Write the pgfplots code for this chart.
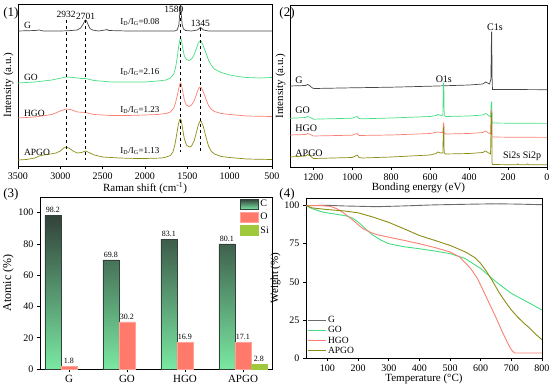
\documentclass[border=0pt]{standalone}
\usepackage{pgfplots}
\pgfplotsset{compat=1.18}
\usepackage{fontspec}
\setmainfont{Liberation Serif}
\definecolor{Gcol}{RGB}{70,70,70}
\definecolor{GOcol}{RGB}{70,222,130}
\definecolor{HGOcol}{RGB}{250,128,114}
\definecolor{APGOcol}{RGB}{140,140,20}
\definecolor{Ctop}{RGB}{50,66,58}
\definecolor{Cbot}{RGB}{122,232,162}
\definecolor{Ocol}{RGB}{255,122,106}
\definecolor{Sicol}{RGB}{160,200,60}
\begin{document}
\begin{tikzpicture}
\useasboundingbox (0pt,0pt) rectangle (550pt,384pt);
\pgfplotsset{
  every axis/.append style={
    scale only axis, anchor=south west,
    /pgf/number format/assume math mode=true,
    /pgf/number format/1000 sep={},
    tick label style={font=\fontsize{10}{11}\selectfont},
    label style={font=\fontsize{11}{12}\selectfont},
    tick align=outside, tick pos=left, major tick length=3pt,
    axis line style={line width=0.6pt},
    every tick/.style={line width=0.6pt, black},
  }
}
% ---------------- Panel 1 : Raman ----------------
\begin{axis}[at={(18pt,218pt)}, width=254pt, height=162pt,
  xmin=500, xmax=3500, x dir=reverse, ymin=0, ymax=162, ytick=\empty,
  xtick={500,1000,...,3500},
  xlabel={Raman shift (cm\textsuperscript{-1})}, ylabel={Intensity (a.u.)},
  xlabel style={yshift=4pt}, ylabel style={yshift=-2pt},
  every axis plot/.append style={line width=0.7pt, no marks}]
\addplot[Gcol] coordinates {(3500,135) (3300,135.5) (3250,136) (3200,135) (3000,135) (2900,135.3) (2800,136) (2760,138) (2730,142) (2710,145.5) (2700,146) (2690,145) (2670,141) (2650,137.5) (2620,136) (2550,135) (2470,136) (2450,136.5) (2430,135.5) (2200,135) (2000,135) (1800,135) (1650,135) (1620,136) (1600,141) (1590,152) (1583,160) (1580,161) (1577,160) (1570,150) (1560,141) (1545,137) (1520,135.5) (1450,135) (1380,136) (1355,138) (1345,138.5) (1335,138) (1310,136) (1250,135) (1000,135) (800,135) (500,135)};
\addplot[GOcol] coordinates {(3500,83) (3300,84) (3100,86) (2932,89) (2850,88.5) (2750,87.5) (2701,87.5) (2600,85.5) (2400,84) (2200,84) (2000,84) (1850,85) (1750,86) (1700,88) (1660,92) (1640,98) (1620,108) (1600,121) (1585,127.5) (1578,128) (1570,126) (1555,118) (1535,110) (1510,106.5) (1480,105.5) (1450,107) (1420,111) (1395,117) (1370,123) (1350,125) (1335,124.5) (1310,120) (1280,113) (1250,106) (1220,101) (1180,97) (1100,93.5) (1000,91) (900,89.5) (800,88.5) (650,88) (500,88.5)};
\addplot[HGOcol] coordinates {(3500,48) (3300,49) (3100,51.5) (3000,55) (2932,57) (2880,56.5) (2800,54) (2701,53.5) (2600,51.5) (2400,50.5) (2200,50.5) (2000,51) (1850,51.5) (1750,52.5) (1700,54) (1660,58) (1640,63) (1620,70) (1600,78) (1585,82.5) (1578,83) (1570,81.5) (1555,75) (1535,66) (1510,61) (1480,59.5) (1450,61) (1420,65) (1395,71) (1370,77) (1350,79) (1335,78.5) (1310,74) (1280,67) (1250,60.5) (1220,57) (1180,54.5) (1100,52.5) (1000,51.5) (800,50) (500,49.5)};
\addplot[APGOcol] coordinates {(3500,6) (3400,6.5) (3300,8) (3250,10) (3200,11) (3150,11.5) (3050,13) (3000,15) (2960,18) (2932,19) (2900,18) (2850,15) (2800,13) (2750,13.5) (2701,15) (2650,13) (2600,11) (2500,9) (2300,8) (2100,7.5) (2000,7.5) (1800,8) (1750,9) (1700,10.5) (1670,14) (1645,22) (1625,32) (1605,42) (1590,46.5) (1580,47) (1570,45) (1555,37) (1535,27) (1510,21) (1480,19) (1450,20) (1420,25) (1395,33) (1370,41) (1350,45) (1335,44.5) (1310,39) (1280,29) (1250,20) (1220,15) (1180,12) (1100,9.5) (1000,8.5) (800,7) (500,6.5)};
\draw[dashed, line width=0.6pt] (axis cs:2932,146) -- (axis cs:2932,6);
\draw[dashed, line width=0.6pt] (axis cs:2701,146) -- (axis cs:2701,6);
\draw[dashed, line width=0.6pt] (axis cs:1580,154) -- (axis cs:1580,14);
\draw[dashed, line width=0.6pt] (axis cs:1345,138) -- (axis cs:1345,14);
\begin{scope}[font=\fontsize{9.5}{10}\selectfont]
\node at (axis cs:2932,152) {2932};
\node at (axis cs:2701,150) {2701};
\node at (axis cs:1660,157) {1580};
\node at (axis cs:1345,143) {1345};
\end{scope}
\begin{scope}[font=\fontsize{9}{10}\selectfont]
\node at (axis cs:2060,144) {I\textsubscript{D}/I\textsubscript{G}=0.08};
\node at (axis cs:2060,94) {I\textsubscript{D}/I\textsubscript{G}=2.16};
\node at (axis cs:2060,56) {I\textsubscript{D}/I\textsubscript{G}=1.23};
\node at (axis cs:2060,15) {I\textsubscript{D}/I\textsubscript{G}=1.13};
\end{scope}
\begin{scope}[font=\fontsize{9.5}{10}\selectfont]
\node[anchor=west] at (axis cs:3470,141) {G};
\node[anchor=west] at (axis cs:3470,89) {GO};
\node[anchor=west] at (axis cs:3470,53) {HGO};
\node[anchor=west] at (axis cs:3470,14) {APGO};
\end{scope}
\end{axis}
% ---------------- Panel 2 : XPS ----------------
\begin{axis}[at={(290pt,217pt)}, width=257pt, height=162pt,
  xmin=0, xmax=1320, x dir=reverse, ymin=0, ymax=162, ytick=\empty,
  xtick={0,200,...,1200},
  xlabel={Bonding energy (eV)}, ylabel={Intensity (a.u.)},
  xlabel style={yshift=4pt}, ylabel style={yshift=-2pt},
  every axis plot/.append style={line width=0.7pt, no marks}]
\addplot[Gcol] coordinates {(1320,81) (1240,81.5) (1230,82.5) (1220,81.5) (1205,79) (1195,78.5) (1000,79.2) (800,79.8) (600,80.8) (400,82) (330,83) (315,85) (305,84) (295,83) (288,88) (285,135) (284,135) (282,90) (280,77.5) (200,77.5) (0,77.3)};
\addplot[GOcol] coordinates {(1320,48.7) (1240,49.5) (1230,50.5) (1215,49.5) (1200,47.8) (1000,48.8) (985,50) (975,50.5) (965,48.5) (950,48.2) (800,49) (600,50.5) (570,51.5) (560,52.5) (545,51.5) (535,52) (532,84) (530,84) (528,52) (520,50.5) (400,51) (330,52) (315,53.5) (300,51.5) (290,50) (286,65) (284,65) (282,46) (280,44) (200,43.8) (0,43.6)};
\addplot[HGOcol] coordinates {(1320,32) (1240,32.5) (1230,33.5) (1215,32.5) (1200,31) (1000,31.8) (985,33) (975,33.5) (965,31.5) (800,32) (600,33.5) (560,35) (545,34.5) (535,34.5) (532,44) (530,44) (528,34) (520,33) (400,33.5) (330,34.5) (315,36) (300,34) (290,33) (286,57) (284,57) (282,31) (280,30) (200,29.8) (0,29.6)};
\addplot[APGOcol] coordinates {(1320,10) (1240,11) (1230,12.5) (1215,11) (1200,8.5) (1000,9.5) (985,11) (975,12) (965,9.5) (950,9) (800,10) (600,12) (570,13.5) (560,15) (545,14) (535,14) (532,40) (530,40) (528,14) (520,13) (400,13.5) (330,14.5) (315,16) (300,14) (290,13) (286,54) (284,54) (282,4) (280,2.5) (200,2.3) (155,2.3) (150,3.2) (145,2.3) (105,2.3) (100,3.2) (95,2.3) (0,2.2)};
\begin{scope}[font=\fontsize{10}{11}\selectfont]
\node[anchor=west] at (axis cs:1310,87) {G};
\node[anchor=west] at (axis cs:1310,57) {GO};
\node[anchor=west] at (axis cs:1310,39) {HGO};
\node[anchor=west] at (axis cs:1310,14) {APGO};
\node at (axis cs:530,88) {O1s};
\node at (axis cs:267,140) {C1s};
\node at (axis cs:128,11) {Si2s Si2p};
\end{scope}
\end{axis}
% ---------------- Panel 3 : bars ----------------
\begin{axis}[at={(40pt,15pt)}, width=232pt, height=172pt,
  ybar=0pt, bar width=16pt,
  xmin=-0.5, xmax=3.5, ymin=0, ymax=110,
  xtick={0,1,2,3}, xticklabels={G,GO,HGO,APGO},
  x tick label style={font=\fontsize{11}{12}\selectfont},
  ytick={0,20,...,100},
  ylabel={Atomic (\%)}, ylabel style={font=\fontsize{12}{13}\selectfont, yshift=-2pt},
  nodes near coords, every node near coord/.append style={font=\fontsize{8}{9}\selectfont, /pgf/number format/fixed, /pgf/number format/precision=1, /pgf/number format/fixed zerofill, yshift=-1pt},
  legend style={at={(1,1)}, anchor=north east, draw=none, fill=none, font=\fontsize{10}{11}\selectfont, row sep=1pt, inner sep=1pt},
  legend image code/.code={\path[#1] (0pt,-5pt) rectangle (18pt,5pt);},
  legend cell align=left]
\addplot[top color=Ctop, bottom color=Cbot, draw=Ctop, line width=0.4pt] coordinates {(0,98.2) (1,69.8) (2,83.1) (3,80.1)};
\addplot[fill=Ocol, draw=Ocol!70!white, line width=0.4pt] coordinates {(0,1.8) (1,30.2) (2,16.9) (3,17.1)};
\addplot[fill=Sicol, draw=Sicol, line width=0.4pt] coordinates {(3,2.8)};
\legend{C,O,Si}
\end{axis}
% ---------------- Panel 4 : TGA ----------------
\begin{axis}[at={(306pt,26pt)}, width=236pt, height=160pt,
  xmin=30, xmax=800, ymin=0, ymax=105,
  xtick={100,200,...,800}, ytick={0,25,50,75,100},
  xlabel={Temperature (°C)}, ylabel={Weight (\%)},
  xlabel style={yshift=4pt}, ylabel style={yshift=-3pt},
  every axis plot/.append style={line width=0.9pt, no marks},
  legend style={at={(0,0)}, anchor=south west, draw=none, fill=none, font=\fontsize{9.5}{10}\selectfont, row sep=-1.5pt, inner sep=1pt},
  legend image code/.code={\draw[#1] (0pt,0pt) -- (18pt,0pt);},
  legend cell align=left]
\addplot[Gcol!80!white] coordinates {(30,100) (100,100.2) (150,99.8) (262,99.3) (350,99.8) (450,100.5) (585,101) (650,101.2) (720,101) (800,100.6)};
\addplot[GOcol] coordinates {(30,100) (50,98) (80,96) (100,95.2) (130,94.3) (160,93.3) (180,92) (195,90) (210,87.5) (225,84.5) (250,80.4) (275,77.3) (300,75) (350,73) (400,71.7) (450,70.2) (500,68.5) (550,65.2) (600,58.7) (650,50) (700,42.4) (750,37) (800,31.5)};
\addplot[HGOcol] coordinates {(30,100) (80,100) (110,99.5) (130,98) (150,95.6) (170,92.5) (185,90.2) (200,87.5) (215,85) (240,82.5) (260,81) (300,79.3) (350,77.2) (400,75) (450,72.5) (500,69.6) (530,66.5) (550,62.5) (570,58) (590,52) (610,43.5) (630,35) (650,26.5) (670,17.4) (690,9) (700,5.4) (710,3.3) (750,3.3) (800,3.3)};
\addplot[APGOcol] coordinates {(30,100) (50,98.5) (100,97.4) (150,96.6) (200,95.3) (250,92.4) (300,89) (350,84.8) (400,80.4) (450,77.2) (500,73.9) (550,69.6) (580,66) (600,62) (620,56.5) (640,50) (660,43) (680,37) (700,31.5) (720,27) (740,23) (760,19.6) (780,15.5) (800,12)};
\legend{G,GO,HGO,APGO}
\end{axis}
% ---------------- Panel labels ----------------
\begin{scope}[font=\fontsize{13}{14}\selectfont]
\node at (11pt,371pt) {(1)};
\node at (287pt,371pt) {(2)};
\node at (11pt,190pt) {(3)};
\node at (287pt,190pt) {(4)};
\end{scope}
\end{tikzpicture}
\end{document}
